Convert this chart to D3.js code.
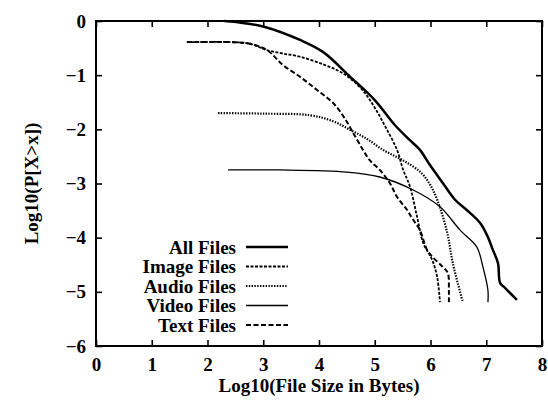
<!DOCTYPE html>
<html><head><meta charset="utf-8">
<script src="https://cdn.jsdelivr.net/npm/d3@7"></script>
<style>body{margin:0;background:#fff}svg{display:block}svg text{font-family:"Liberation Serif","Times New Roman",Times,"DejaVu Serif",serif !important;font-weight:bold;fill:#000}</style>
</head><body><svg id="c" width="548" height="401"></svg>
<script>
const xTicks = [0,1,2,3,4,5,6,7,8];
const yTicks = [0,-1,-2,-3,-4,-5,-6];
const seriesNames = ["All Files","Image Files","Audio Files","Video Files","Text Files"];
const allFiles = [[2.3,0],[2.67,-0.04],[3.03,-0.11],[3.66,-0.35],[4.07,-0.57],[4.56,-1.03],[5.0,-1.46],[5.36,-1.92],[5.63,-2.2],[5.81,-2.38],[5.99,-2.66],[6.22,-2.99],[6.44,-3.3],[6.65,-3.49],[6.89,-3.73],[7.03,-3.99],[7.12,-4.23],[7.21,-4.47],[7.25,-4.84],[7.34,-4.93],[7.55,-5.15]];
const imageFiles = [[1.63,-0.39],[2.4,-0.39],[2.76,-0.42],[3.07,-0.54],[3.35,-0.6],[3.66,-0.66],[4.07,-0.8],[4.35,-0.92],[4.56,-1.06],[4.8,-1.3],[5.0,-1.6],[5.2,-1.97],[5.4,-2.38],[5.51,-2.75],[5.63,-3.05],[5.76,-3.62],[5.87,-4.1],[6.03,-4.41],[6.12,-4.73],[6.17,-5.19]];
const audioFiles = [[2.19,-1.7],[3.0,-1.71],[3.84,-1.74],[4.25,-1.85],[4.56,-2.01],[4.85,-2.17],[5.15,-2.38],[5.5,-2.57],[5.81,-2.78],[5.98,-3.0],[6.12,-3.3],[6.3,-3.91],[6.4,-4.47],[6.58,-5.19]];
const videoFiles = [[2.37,-2.75],[3.3,-2.75],[4.5,-2.79],[5.09,-2.88],[5.69,-3.12],[6.17,-3.43],[6.53,-3.86],[6.83,-4.17],[6.94,-4.54],[7.03,-4.97],[7.03,-5.19]];
const textFiles = [[1.63,-0.39],[2.4,-0.39],[2.76,-0.42],[3.07,-0.54],[3.35,-0.81],[3.66,-1.03],[3.96,-1.27],[4.25,-1.51],[4.45,-1.78],[4.62,-2.08],[4.79,-2.38],[4.91,-2.57],[5.09,-2.75],[5.27,-2.99],[5.4,-3.25],[5.58,-3.49],[5.69,-3.67],[5.81,-3.86],[5.94,-4.23],[6.04,-4.36],[6.22,-4.54],[6.31,-4.65],[6.33,-4.97],[6.33,-5.19]];

const data = [allFiles,imageFiles,audioFiles,videoFiles,textFiles];
const styles = [
  {w:2.5,d:null},
  {w:1.8,d:"3,1.5"},
  {w:2.2,d:"1.4,1.4"},
  {w:1.3,d:null},
  {w:2,d:"5,2.5"}
];
const svg = d3.select("#c");
const L=96,R=542,T=21,B=346;
const x = d3.scaleLinear().domain([0,8]).range([L,R]);
const y = d3.scaleLinear().domain([-6,0]).range([B,T]);

svg.append("rect").attr("x",L).attr("y",T).attr("width",R-L).attr("height",B-T)
  .attr("fill","none").attr("stroke","#000").attr("stroke-width",2);

const tk=6;
const fam = '"Liberation Serif","Times New Roman",serif';
svg.append("g").attr("transform",`translate(0,${B})`)
  .call(d3.axisBottom(x).tickValues(xTicks).tickSize(-tk).tickPadding(12).tickFormat(d3.format("d")))
  .call(g=>{g.attr("font-family",fam);g.select(".domain").remove();g.selectAll("line").attr("stroke-width",1.6);g.selectAll("text").attr("font-size",19);});
svg.append("g").attr("transform",`translate(0,${T})`)
  .call(d3.axisTop(x).tickValues(xTicks).tickSize(-tk).tickFormat(""))
  .call(g=>{g.select(".domain").remove();g.selectAll("line").attr("stroke-width",1.6);});
svg.append("g").attr("transform",`translate(${L},0)`)
  .call(d3.axisLeft(y).tickValues(yTicks).tickSize(-tk).tickPadding(10).tickFormat(d3.format("d")))
  .call(g=>{g.attr("font-family",fam);g.select(".domain").remove();g.selectAll("line").attr("stroke-width",1.6);g.selectAll("text").attr("font-size",19);});
svg.append("g").attr("transform",`translate(${R},0)`)
  .call(d3.axisRight(y).tickValues(yTicks).tickSize(-tk).tickFormat(""))
  .call(g=>{g.select(".domain").remove();g.selectAll("line").attr("stroke-width",1.6);});

const line = d3.line().x(d=>x(d[0])).y(d=>y(d[1])).curve(d3.curveCatmullRom.alpha(0.5));
data.forEach((s,i)=>{
  svg.append("path").datum(s).attr("d",line).attr("fill","none").attr("stroke","#000")
    .attr("stroke-width",styles[i].w).attr("stroke-dasharray",styles[i].d).attr("stroke-linejoin","round");
});

const lg = svg.append("g").attr("font-family",fam);
seriesNames.forEach((n,i)=>{
  const yy = 247 + i*19.5;
  lg.append("text").attr("x",236).attr("y",yy).attr("dy","0.35em").attr("text-anchor","end").attr("font-size",19).text(n);
  lg.append("line").attr("x1",246).attr("x2",288).attr("y1",yy).attr("y2",yy).attr("stroke","#000")
    .attr("stroke-width",styles[i].w).attr("stroke-dasharray",styles[i].d);
});

svg.append("text").attr("font-family",fam).attr("x",(L+R)/2).attr("y",392).attr("text-anchor","middle").attr("font-size",19).text("Log10(File Size in Bytes)");
svg.append("text").attr("font-family",fam).attr("transform",`translate(38,${(T+B)/2}) rotate(-90)`).attr("text-anchor","middle").attr("font-size",19).text("Log10(P[X>x])");
</script></body></html>
